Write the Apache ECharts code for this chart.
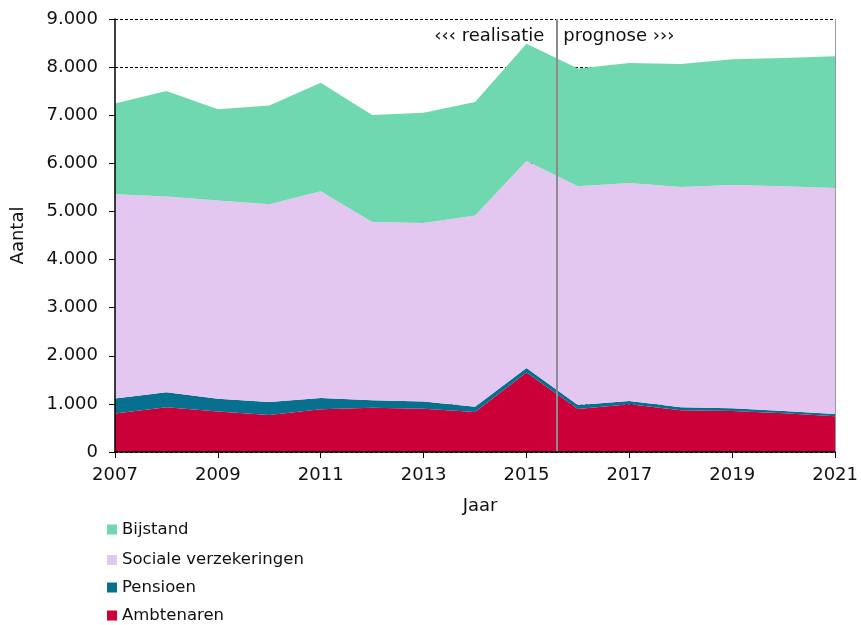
<!DOCTYPE html>
<html><head><meta charset="utf-8">
<script src="https://cdn.jsdelivr.net/npm/echarts@6/dist/echarts.min.js"></script>
<style>html,body{margin:0;padding:0;background:#fff}#c{width:861px;height:625px}</style>
</head><body><div id="c"></div>
<script>
const years = ['2007','2008','2009','2010','2011','2012','2013','2014','2015','2016','2017','2018','2019','2020','2021'];
const ambtenaren = [800,930,840,770,890,920,900,830,1655,895,990,870,852,803,745];
const pensioen = [310,310,265,270,235,155,150,110,90,80,70,60,55,50,45];
const socialeVerzekeringen = [4245,4070,4120,4112,4293,3704,3710,3975,4305,4549,4533,4580,4644,4671,4699];
const bijstand = [1890,2194,1897,2050,2256,2228,2293,2359,2438,2445,2493,2555,2611,2666,2735];
const seriesNames = ['Ambtenaren','Pensioen','Sociale verzekeringen','Bijstand'];
const legendOrder = ['Bijstand','Sociale verzekeringen','Pensioen','Ambtenaren'];
const colors = {'Ambtenaren':'#cc0038','Pensioen':'#08708f','Sociale verzekeringen':'#e4c7f0','Bijstand':'#70d8ae'};
const splitYear = 2015.58;
const FONT = 'DejaVu Sans';

const dataMap = {'Ambtenaren':ambtenaren,'Pensioen':pensioen,'Sociale verzekeringen':socialeVerzekeringen,'Bijstand':bijstand};
const chart = echarts.init(document.getElementById('c'));
const series = seriesNames.map((n,i)=>({
  name:n, type:'line', stack:'total', symbol:'none', smooth:false,
  data: dataMap[n],
  lineStyle:{width:0}, itemStyle:{color:colors[n]},
  areaStyle:{color:colors[n], opacity:1}, z:2
}));
series.push({
  name:'_split', type:'line', xAxisIndex:1, data:[], z:5,
  markLine:{
    silent:true, symbol:'none', animation:false, label:{show:false},
    data:[
      {xAxis:splitYear, lineStyle:{color:'#8c8c8c', width:2, type:'solid'}},
      {xAxis:2021, lineStyle:{color:'#999', width:1, type:'solid'}}
    ]
  }
});
const legendTops = [521, 551.5, 579, 607];
const legends = legendOrder.map((n,i)=>({
  data:[n], orient:'vertical', left:107, top:legendTops[i], padding:0,
  itemWidth:10, itemHeight:10, icon:'rect',
  textStyle:{fontFamily:FONT, fontSize:16.5, color:'#111'}
}));
const yLabelFmt = v=>v===0?'0':String(v).replace(/\B(?=(\d{3})+(?!\d))/g,'.');
chart.setOption({
  animation:false,
  textStyle:{fontFamily:FONT},
  grid:{left:115, right:25, top:19, bottom:173},
  legend:legends,
  xAxis:[{
    type:'category', data:years, boundaryGap:false, z:6,
    name:'Jaar', nameLocation:'middle', nameGap:45,
    nameTextStyle:{fontFamily:FONT, fontSize:18, color:'#111', padding:[0,0,0,10]},
    axisLine:{lineStyle:{color:'#000', width:1.5}},
    axisTick:{show:true, length:6, interval:1, lineStyle:{color:'#000'}},
    axisLabel:{fontFamily:FONT, fontSize:18, color:'#111', margin:14, interval:1},
    splitLine:{show:false}
  },{
    type:'value', min:2007, max:2021, show:false
  }],
  yAxis:[{
    type:'value', min:0, max:9000, interval:1000, z:0,
    name:'Aantal', nameLocation:'middle', nameGap:88,
    nameTextStyle:{fontFamily:FONT, fontSize:18, color:'#111'},
    axisLine:{show:false},
    axisTick:{show:true, length:6, lineStyle:{color:'#000'}},
    axisLabel:{fontFamily:FONT, fontSize:18, color:'#111', margin:17, formatter:yLabelFmt},
    splitLine:{show:true, lineStyle:{color:'#000', type:[3,2], width:1}}
  },{
    type:'value', min:0, max:9000, interval:1000, position:'left', z:6,
    axisLine:{show:true, lineStyle:{color:'#000', width:1.5}},
    axisTick:{show:false}, axisLabel:{show:false}, splitLine:{show:false}
  }],
  series:series
});
const p = chart.convertToPixel({xAxisIndex:1, yAxisIndex:0},[splitYear, 8650]);
chart.setOption({graphic:[
  {type:'text', x:p[0]-12, y:p[1], style:{text:'‹‹‹ realisatie', fontFamily:FONT, fontSize:18, fill:'#111', align:'right', verticalAlign:'middle'}},
  {type:'text', x:p[0]+7, y:p[1], style:{text:'prognose ›››', fontFamily:FONT, fontSize:18, fill:'#111', align:'left', verticalAlign:'middle'}}
]});
</script></body></html>
